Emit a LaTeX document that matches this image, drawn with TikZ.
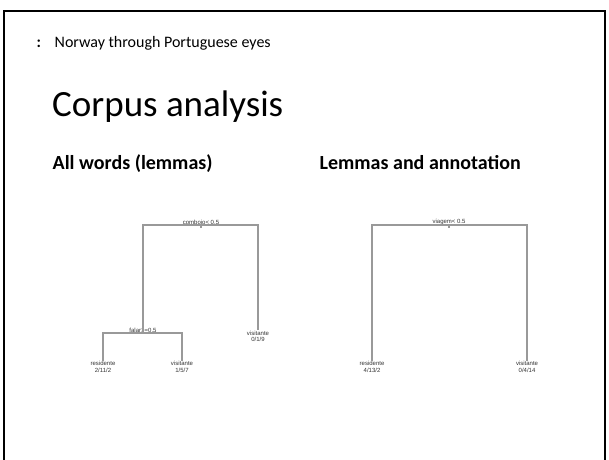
\documentclass[tikz,border=0pt]{standalone}
\usepackage{fontspec}
\setmainfont{Carlito}
\newfontfamily\treefont{Liberation Sans}
\usetikzlibrary{positioning}

\begin{document}
\begin{tikzpicture}[
    x=1pt, y=-1pt,
    frame/.style={
        line width=2pt,
        black
    },
    branch/.style={
        draw=black!40,
        line width=1.2pt
    },
    split/.style={
        font=\treefont\fontsize{6}{6.5}\selectfont,
        text=black!80,
        inner sep=0.5pt,
        anchor=south
    },
    leaf/.style={
        font=\treefont\fontsize{6}{6.5}\selectfont,
        text=black!80,
        inner sep=0.5pt,
        anchor=north,
        align=center
    },
    heading/.style={
        font=\bfseries\fontsize{20}{24}\selectfont,
        anchor=base west,
        inner sep=0pt
    }
]
    \useasboundingbox (0,0) rectangle (609,459);

    % Slide frame
    \draw[frame] (4,462) -- (4,11) -- (605,11) -- (605,462);

    % Header
    \node[anchor=base west, inner sep=0pt, font=\bfseries\fontsize{16}{18}\selectfont] (colon) at (36.5,47) {:};
    \node[anchor=base west, inner sep=0pt, font=\fontsize{16}{18}\selectfont] (subtitle) at (54.5,47) {Norway through Portuguese eyes};
    \node[anchor=base west, inner sep=0pt, font=\fontsize{37}{44}\selectfont] (title) at (52,116) {Corpus analysis};

    % Headings
    \node[heading] (head1) at (52.5,169.5) {All words (lemmas)};
    \node[heading] (head2) at (319.5,169.5) {Lemmas and annotation};

    % Tree 1
    \coordinate (c1) at (201,225);
    \coordinate (c2) at (143,333);
    \node[split] (lab1) at (c1) {comboio< 0.5};
    \node[split] (lab2) at (c2) {falar>=0.5};
    \node[leaf] (res1) at (103,360.5) {residente\\2/11/2};
    \node[leaf] (vis1) at (182,360.5) {visitante\\1/5/7};
    \node[leaf] (vis2) at (258,330) {visitante\\0/1/9};

    \draw[branch] (c2) |- (c1) -| (vis2);
    \draw[branch] (res1) |- (c2) -| (vis1);
    \draw[branch] (c1) -- ++(0,3);

    % Tree 2
    \coordinate (v1) at (449,225);
    \node[split] (lab3) at (v1) {viagem< 0.5};
    \node[leaf] (res2) at (372,360.5) {residente\\4/13/2};
    \node[leaf] (vis3) at (527,360.5) {visitante\\0/4/14};

    \draw[branch] (res2) |- (v1) -| (vis3);
    \draw[branch] (v1) -- ++(0,3);
\end{tikzpicture}
\end{document}
